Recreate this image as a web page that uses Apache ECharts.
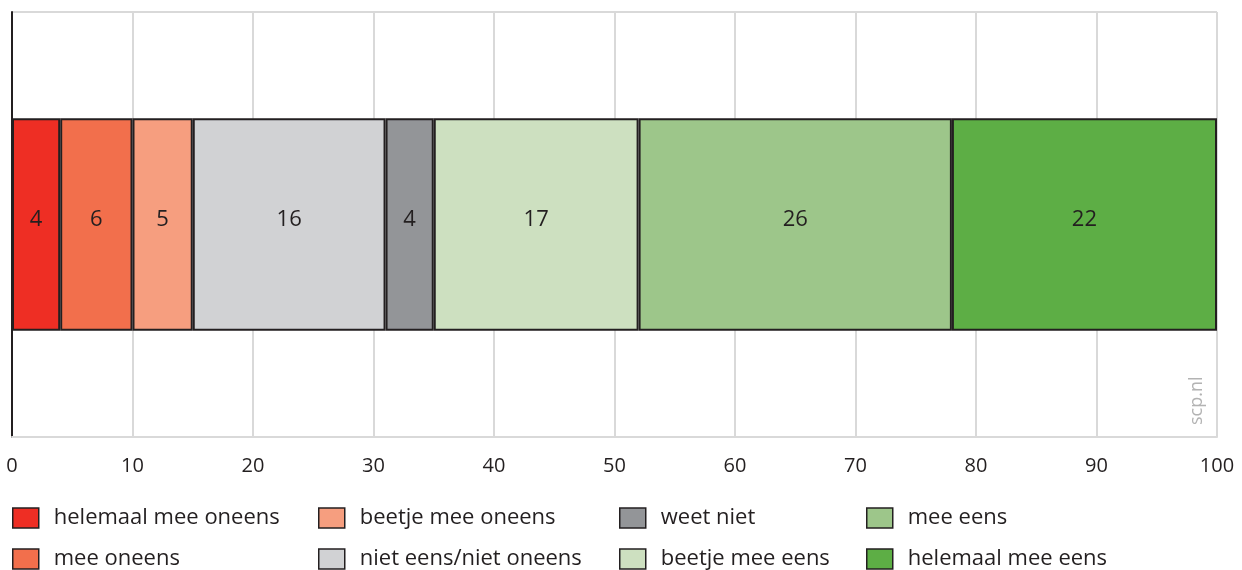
<!DOCTYPE html>
<html>
<head>
<meta charset="utf-8">
<script src="https://cdn.jsdelivr.net/npm/echarts@6/dist/echarts.min.js"></script>
<style>
  html, body { margin: 0; padding: 0; background: #fff; }
  #chart { width: 1242px; height: 570px; }
</style>
</head>
<body>
<div id="chart"></div>
<script>
// answer categories, left to right
const answers = [
  "helemaal mee oneens",
  "mee oneens",
  "beetje mee oneens",
  "niet eens/niet oneens",
  "weet niet",
  "beetje mee eens",
  "mee eens",
  "helemaal mee eens"
];
const percentages = [4, 6, 5, 16, 4, 17, 26, 22];
const colors = ["#ee2e24", "#f26f4c", "#f69e7f", "#d1d2d4", "#939598", "#cde0c0", "#9dc68a", "#5dae45"];
const xTicks = [0, 10, 20, 30, 40, 50, 60, 70, 80, 90, 100];

const FONT = "Open Sans";
const chart = echarts.init(document.getElementById("chart"));

const series = answers.map((name, i) => ({
  name: name,
  type: "bar",
  stack: "total",
  barWidth: "50%",
  data: [percentages[i]],
  itemStyle: { color: colors[i], borderColor: "#231f20", borderWidth: 2 },
  label: {
    show: true,
    position: "inside",
    offset: [0, -5],
    fontFamily: FONT,
    fontSize: 22,
    color: "#231f20"
  },
  emphasis: { disabled: true }
}));

// legend in 4 columns of 2 items
const colLeft = [12, 318, 619, 866];
const legends = colLeft.map((left, c) => ({
  orient: "vertical",
  left: left,
  top: 507,
  padding: 0,
  itemWidth: 26,
  itemHeight: 20,
  itemGap: 19,
  icon: "rect",
  selectedMode: false,
  data: answers.slice(c * 2, c * 2 + 2),
  itemStyle: { borderColor: "#231f20", borderWidth: 1.5 },
  textStyle: { fontFamily: FONT, fontSize: 22, color: "#231f20", padding: [0, 0, 0, 10] }
}));

chart.setOption({
  animation: false,
  grid: { left: 12, right: 25, top: 12, bottom: 133, containLabel: false },
  legend: legends,
  xAxis: {
    type: "value",
    min: xTicks[0],
    max: xTicks[xTicks.length - 1],
    interval: 10,
    axisLine: { show: true, lineStyle: { color: "#d9d9d9", width: 2 } },
    axisTick: { show: false },
    splitLine: { show: true, lineStyle: { color: "#d9d9d9", width: 2 } },
    axisLabel: {
      margin: 19,
      fontFamily: FONT,
      fontSize: 20,
      color: "#231f20",
      formatter: v => (xTicks.includes(v) ? String(v) : "")
    }
  },
  yAxis: {
    type: "category",
    data: [""],
    axisLine: { show: true, lineStyle: { color: "#231f20", width: 2 } },
    axisTick: { show: false },
    axisLabel: { show: false },
    splitLine: { show: true, lineStyle: { color: "#d9d9d9", width: 2 } }
  },
  graphic: [{
    type: "text",
    x: 1197,
    y: 425,
    rotation: Math.PI / 2,
    style: {
      text: "scp.nl",
      fontFamily: FONT,
      fontSize: 18,
      fill: "#b3b3b3",
      textAlign: "left",
      textVerticalAlign: "middle"
    }
  }],
  series: series
});
</script>
</body>
</html>
